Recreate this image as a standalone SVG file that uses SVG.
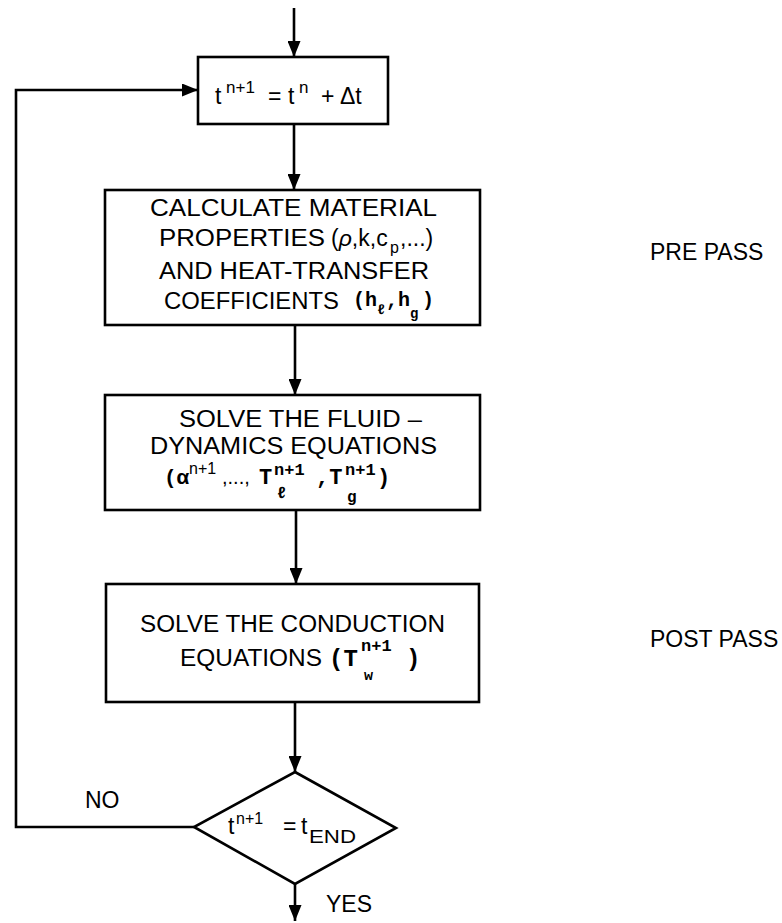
<svg xmlns="http://www.w3.org/2000/svg" width="782" height="923" viewBox="0 0 782 923">
<defs>
<style>
.box{fill:#fff;stroke:#000;stroke-width:2.6}
.ln{fill:none;stroke:#000;stroke-width:2.6;stroke-linejoin:miter}
.arr{marker-end:url(#ah)}
.t{font-family:"Liberation Sans",Arial,sans-serif;font-size:23px;fill:#000}
.m{font-family:"Liberation Mono","Courier New",monospace;font-weight:bold}
</style>
<marker id="ah" viewBox="0 0 16 13" refX="16" refY="6.5" markerWidth="16" markerHeight="13" markerUnits="userSpaceOnUse" orient="auto">
<path d="M0,0 L16,6.5 L0,13 Z" fill="#000"/>
</marker>
</defs>
<rect x="0" y="0" width="782" height="923" fill="#fff"/>

<g id="connectors">
<line class="ln arr" x1="294" y1="8" x2="294" y2="57"/>
<line class="ln arr" x1="294" y1="124" x2="294" y2="190"/>
<line class="ln arr" x1="295" y1="325" x2="295" y2="395"/>
<line class="ln arr" x1="296" y1="510" x2="296" y2="584"/>
<line class="ln arr" x1="295" y1="702" x2="295" y2="772"/>
<line class="ln arr" x1="295" y1="884" x2="295" y2="921"/>
<polyline class="ln arr" points="194,827 16,827 16,90 198,90"/>
</g>

<g id="step-time">
<rect class="box" x="198" y="57" width="190" height="67"/>
<text class="t" font-size="24" y="104"><tspan x="215">t</tspan><tspan x="226" y="93" font-size="17">n+1</tspan><tspan x="268" y="104">=</tspan><tspan x="288">t</tspan><tspan x="299" y="93" font-size="17">n</tspan><tspan x="321" y="104">+</tspan><tspan x="340">Δt</tspan></text>
</g>

<g id="material-properties">
<rect class="box" x="105" y="190" width="375" height="135"/>
<text class="t" x="150" y="216" textLength="287" lengthAdjust="spacingAndGlyphs">CALCULATE MATERIAL</text>
<text class="t" y="246"><tspan x="159" textLength="166" lengthAdjust="spacingAndGlyphs">PROPERTIES</tspan><tspan x="331">(<tspan font-style="italic">ρ</tspan>,k,c</tspan><tspan x="390" y="253" font-size="16">p</tspan><tspan x="400" y="246">,...)</tspan></text>
<text class="t" x="159" y="279" textLength="270" lengthAdjust="spacingAndGlyphs">AND HEAT-TRANSFER</text>
<text class="t" y="309"><tspan x="164" textLength="175" lengthAdjust="spacingAndGlyphs">COEFFICIENTS</tspan><tspan class="m" font-size="20" x="353" y="306">(h</tspan><tspan class="m" font-size="14" x="377" y="314">ℓ</tspan><tspan class="m" font-size="20" x="386" y="306">,h</tspan><tspan class="m" font-size="14" x="410" y="318">g</tspan><tspan class="m" font-size="20" x="422" y="306">)</tspan></text>
</g>

<g id="fluid-dynamics">
<rect class="box" x="105" y="395" width="375" height="115"/>
<text class="t" x="179" y="427" textLength="243" lengthAdjust="spacingAndGlyphs">SOLVE THE FLUID –</text>
<text class="t" x="150" y="454" textLength="287" lengthAdjust="spacingAndGlyphs">DYNAMICS EQUATIONS</text>
<text class="t" y="484"><tspan class="m" font-size="21" x="164">(α</tspan><tspan x="189" y="474" font-size="16">n+1</tspan><tspan x="222" y="484" font-size="20">,...,</tspan><tspan class="m" font-size="22" x="259">T</tspan><tspan class="m" font-size="16" x="277" y="498">ℓ</tspan><tspan class="m" font-size="17" x="274" y="475">n+1</tspan><tspan class="m" font-size="22" x="316" y="484">,T</tspan><tspan class="m" font-size="16" x="347" y="502">g</tspan><tspan class="m" font-size="17" x="345" y="475">n+1</tspan><tspan class="m" font-size="22" x="377" y="484">)</tspan></text>
</g>

<g id="conduction">
<rect class="box" x="106" y="584" width="373" height="118"/>
<text class="t" x="140" y="632" textLength="305" lengthAdjust="spacingAndGlyphs">SOLVE THE CONDUCTION</text>
<text class="t" y="666"><tspan x="180" textLength="142" lengthAdjust="spacingAndGlyphs">EQUATIONS</tspan><tspan class="m" font-size="24" x="329">(T</tspan><tspan class="m" font-size="17" x="361" y="651">n+1</tspan><tspan class="m" font-size="15" x="364" y="680">w</tspan><tspan class="m" font-size="24" x="406" y="666">)</tspan></text>
</g>

<g id="end-check">
<polygon class="box" points="295,772 396,828 295,884 194,827"/>
<text class="t" font-size="22" y="834"><tspan x="228">t</tspan><tspan x="236" y="824" font-size="16">n+1</tspan><tspan x="283" y="834">=</tspan><tspan x="301">t</tspan><tspan x="309" y="843" font-size="18" textLength="47" lengthAdjust="spacingAndGlyphs">END</tspan></text>
</g>

<g id="labels">
<text class="t" x="85" y="808">NO</text>
<text class="t" x="326" y="912">YES</text>
<text class="t" x="650" y="260">PRE PASS</text>
<text class="t" x="650" y="647">POST PASS</text>
</g>
</svg>
